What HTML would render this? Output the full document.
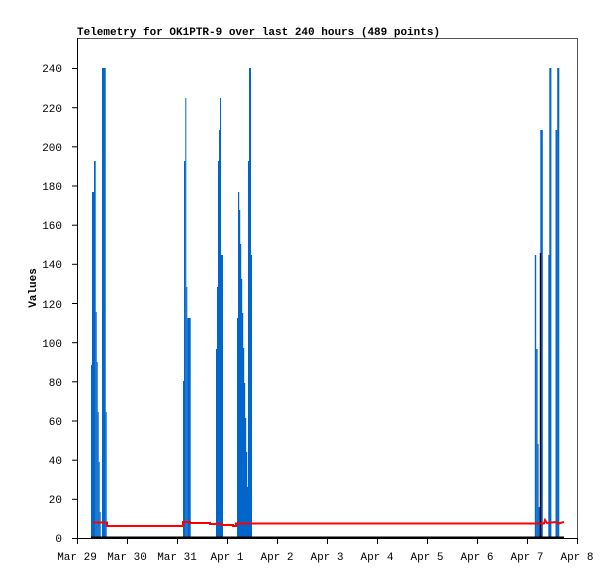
<!DOCTYPE html>
<html><head><meta charset="utf-8"><style>
body{margin:0;background:#fff}
svg text{font-family:"Liberation Mono",monospace;font-size:11px;fill:#000}
</style></head><body>
<svg width="615" height="579" xmlns="http://www.w3.org/2000/svg">
<rect x="77.5" y="38.5" width="500" height="500" fill="none" stroke="#555" stroke-width="1"/>
<text x="77" y="35" style="font-weight:bold">Telemetry for OK1PTR-9 over last 240 hours (489 points)</text>
<text transform="translate(36,288) rotate(-90)" text-anchor="middle" style="font-weight:bold">Values</text>
<g fill="#0066cc">
<rect x="91" y="365" width="2" height="173"/>
<rect x="92" y="192" width="2" height="346"/>
<rect x="94" y="161" width="1.7" height="377"/>
<rect x="95.7" y="312" width="1" height="226"/>
<rect x="96.7" y="362" width="1" height="176"/>
<rect x="97.7" y="412" width="1" height="126"/>
<rect x="98.7" y="462" width="1" height="76"/>
<rect x="99.7" y="512" width="1" height="26"/>
<rect x="102" y="68" width="3.7" height="470"/>
<rect x="105.7" y="412" width="1" height="126"/>
<rect x="183" y="381" width="1.2" height="157"/>
<rect x="184" y="161" width="1.3" height="377"/>
<rect x="185.3" y="98" width="1" height="440"/>
<rect x="186.3" y="287" width="1" height="251"/>
<rect x="187.3" y="318" width="3.4" height="220"/>
<rect x="216" y="349" width="1.2" height="189"/>
<rect x="217" y="287" width="1.2" height="251"/>
<rect x="218" y="161" width="1.2" height="377"/>
<rect x="219" y="130" width="1.2" height="408"/>
<rect x="220" y="98" width="1" height="440"/>
<rect x="221" y="255" width="2" height="283"/>
<rect x="237" y="318" width="1.2" height="220"/>
<rect x="238" y="192" width="1.2" height="346"/>
<rect x="239" y="210" width="1.2" height="328"/>
<rect x="240" y="244" width="1.2" height="294"/>
<rect x="241" y="279" width="1.2" height="259"/>
<rect x="242" y="313" width="1.2" height="225"/>
<rect x="243" y="348" width="1.2" height="190"/>
<rect x="244" y="383" width="1.2" height="155"/>
<rect x="245" y="418" width="1.2" height="120"/>
<rect x="246" y="452" width="1.2" height="86"/>
<rect x="247" y="487" width="1.2" height="51"/>
<rect x="248" y="161" width="1.2" height="377"/>
<rect x="249" y="68" width="2" height="470"/>
<rect x="251" y="255" width="1" height="283"/>
<rect x="534.8" y="255" width="1.4" height="283"/>
<rect x="536.2" y="349" width="1.4" height="189"/>
<rect x="537.6" y="444" width="1" height="94"/>
<rect x="538.6" y="507" width="1.4" height="31"/>
<rect x="540.3" y="130" width="2.5" height="408"/>
<rect x="548.3" y="255" width="1.4" height="283"/>
<rect x="549.3" y="68" width="2.1" height="470"/>
<rect x="555.5" y="130" width="1.8" height="408"/>
<rect x="557.2" y="68" width="2.1" height="470"/>
</g>
<rect x="539.8" y="253" width="1.4" height="285" fill="#000"/>
<polyline fill="none" stroke="#f00" stroke-width="2" points="93,522.5 107,522.5 107,526 183,526 183,522 190,522 190,523 210,523 210,524 222,524 222,525 233,525 233,526 236,526 236,523.5 534,523.5 544,523.5 545,520 547,523 556,522 558,524 560,523 564,522"/>
<line x1="91" y1="537.5" x2="564" y2="537.5" stroke="#000" stroke-width="2"/>
<g stroke="#000" stroke-width="1">
<line x1="77.5" y1="38" x2="77.5" y2="539"/>
<line x1="77" y1="538.5" x2="578" y2="538.5"/>
<line x1="72" y1="538.5" x2="77" y2="538.5"/>
<line x1="72" y1="499.3" x2="77" y2="499.3"/>
<line x1="72" y1="460.2" x2="77" y2="460.2"/>
<line x1="72" y1="421" x2="77" y2="421"/>
<line x1="72" y1="381.8" x2="77" y2="381.8"/>
<line x1="72" y1="342.7" x2="77" y2="342.7"/>
<line x1="72" y1="303.5" x2="77" y2="303.5"/>
<line x1="72" y1="264.3" x2="77" y2="264.3"/>
<line x1="72" y1="225.2" x2="77" y2="225.2"/>
<line x1="72" y1="186" x2="77" y2="186"/>
<line x1="72" y1="146.8" x2="77" y2="146.8"/>
<line x1="72" y1="107.7" x2="77" y2="107.7"/>
<line x1="72" y1="68.5" x2="77" y2="68.5"/>
<line x1="77.5" y1="538" x2="77.5" y2="544"/>
<line x1="127.5" y1="538" x2="127.5" y2="544"/>
<line x1="177.5" y1="538" x2="177.5" y2="544"/>
<line x1="227.5" y1="538" x2="227.5" y2="544"/>
<line x1="277.5" y1="538" x2="277.5" y2="544"/>
<line x1="327.5" y1="538" x2="327.5" y2="544"/>
<line x1="377.5" y1="538" x2="377.5" y2="544"/>
<line x1="427.5" y1="538" x2="427.5" y2="544"/>
<line x1="477.5" y1="538" x2="477.5" y2="544"/>
<line x1="527.5" y1="538" x2="527.5" y2="544"/>
<line x1="577.5" y1="538" x2="577.5" y2="544"/>
</g>
<g text-anchor="end">
<text x="62" y="542">0</text>
<text x="62" y="503">20</text>
<text x="62" y="464">40</text>
<text x="62" y="425">60</text>
<text x="62" y="386">80</text>
<text x="62" y="347">100</text>
<text x="62" y="308">120</text>
<text x="62" y="268">140</text>
<text x="62" y="229">160</text>
<text x="62" y="190">180</text>
<text x="62" y="151">200</text>
<text x="62" y="112">220</text>
<text x="62" y="72">240</text>
</g>
<g text-anchor="middle">
<text x="77" y="560">Mar 29</text>
<text x="127" y="560">Mar 30</text>
<text x="177" y="560">Mar 31</text>
<text x="227" y="560">Apr 1</text>
<text x="277" y="560">Apr 2</text>
<text x="327" y="560">Apr 3</text>
<text x="377" y="560">Apr 4</text>
<text x="427" y="560">Apr 5</text>
<text x="477" y="560">Apr 6</text>
<text x="527" y="560">Apr 7</text>
<text x="577" y="560">Apr 8</text>
</g>
</svg>
</body></html>
